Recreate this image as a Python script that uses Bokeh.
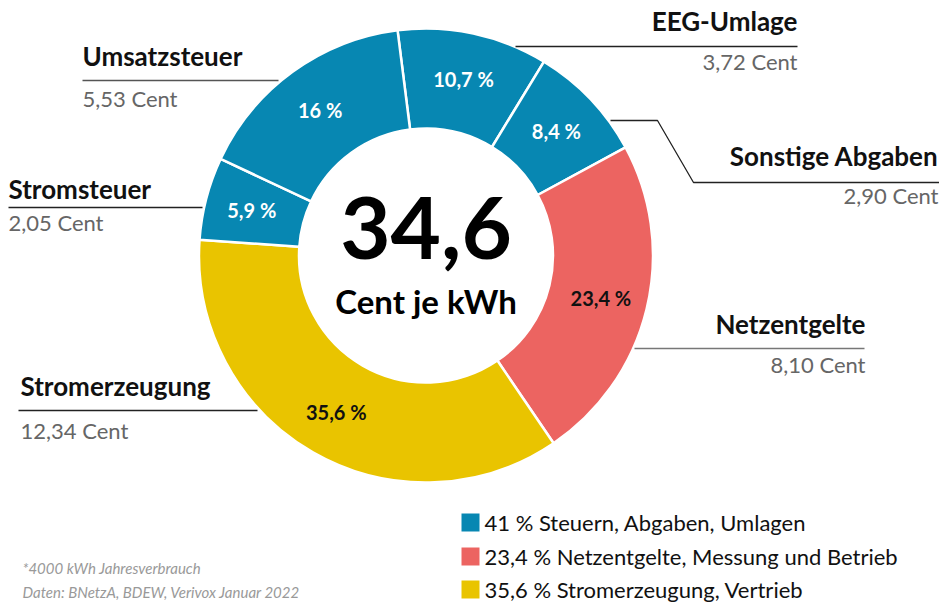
import numpy as np
from bokeh.plotting import figure
from bokeh.models import Range1d, ColumnDataSource
from bokeh.core.properties import value
from bokeh.embed import file_html
from bokeh.resources import INLINE

# ---------------- data ----------------
categories = ["EEG-Umlage", "Sonstige Abgaben", "Netzentgelte",
              "Stromerzeugung", "Stromsteuer", "Umsatzsteuer"]
shares = [10.7, 8.4, 23.4, 35.6, 5.9, 16.0]
share_labels = ["10,7 %", "8,4 %", "23,4 %", "35,6 %", "5,9 %", "16 %"]
cent_labels = ["3,72 Cent", "2,90 Cent", "8,10 Cent", "12,34 Cent", "2,05 Cent", "5,53 Cent"]
groups = ["steuern", "steuern", "netz", "erzeugung", "steuern", "steuern"]
total_label = "34,6"
unit_label = "Cent je kWh"
legend_labels = ["41 % Steuern, Abgaben, Umlagen",
                 "23,4 % Netzentgelte, Messung und Betrieb",
                 "35,6 % Stromerzeugung, Vertrieb"]
legend_groups = ["steuern", "netz", "erzeugung"]
footnotes = ["*4000 kWh Jahresverbrauch", "Daten: BNetzA, BDEW, Verivox Januar 2022"]

# ---------------- styles ----------------
colors = {"steuern": "#0787B2", "netz": "#EC6461", "erzeugung": "#E9C400"}
inner_text_color = {"steuern": "white", "netz": "#111111", "erzeugung": "#111111"}
FONT = "Lato"

W, H = 939, 602
def X(xp):  # page pixel -> data
    return xp
def Y(yp):
    return H - yp
def YC(cap_center, size):  # visual cap centre -> "middle" anchor
    return Y(cap_center - 0.1 * size)

cx, cy = X(425.5), Y(255)
R_out, R_in = 227, 127
theta0 = -7.2  # degrees clockwise from 12 o'clock

cum = np.concatenate([[0], np.cumsum(shares)])
th_s = theta0 + 3.6 * cum[:-1]
th_e = theta0 + 3.6 * cum[1:]
th_m = (th_s + th_e) / 2
lab_r = 180

src = ColumnDataSource(dict(
    cat=categories,
    start=np.radians(90 - th_s),
    end=np.radians(90 - th_e),
    color=[colors[g] for g in groups],
    lx=cx + lab_r * np.sin(np.radians(th_m)),
    ly=cy + lab_r * np.cos(np.radians(th_m)),
    lab=share_labels,
    tcol=[inner_text_color[g] for g in groups],
))

p = figure(width=W, height=H, output_backend="svg", toolbar_location=None,
           x_range=Range1d(0, W), y_range=Range1d(0, H),
           x_axis_type=None, y_axis_type=None, min_border=0,
           outline_line_color=None, background_fill_color="white")
p.grid.visible = False

p.annular_wedge(x=cx, y=cy, inner_radius=R_in, outer_radius=R_out,
                start_angle="start", end_angle="end", direction="clock",
                fill_color="color", line_color="white", line_width=2.5, source=src)

p.text(x="lx", y="ly", text="lab", text_color="tcol", source=src,
       text_font=value(FONT), text_font_style="bold", text_font_size=value("20px"),
       text_align="center", text_baseline="middle")

# center
p.text(x=[cx], y=[YC(236, 87)], text=[total_label], text_font=value(FONT), text_font_style="bold",
       text_font_size=value("87px"), text_align="center", text_baseline="middle",
       text_color="#000000")
p.text(x=[cx], y=[YC(304, 33)], text=[unit_label], text_font=value(FONT), text_font_style="bold",
       text_font_size=value("33px"), text_align="center", text_baseline="middle",
       text_color="#000000")

# outer labels layout (page coords): name x, name cap centre, value cap centre, align, leader line
layout = {
    "EEG-Umlage":       (797, 23, 63, "right", [(515, 46), (797, 46)]),
    "Sonstige Abgaben": (938, 158, 197.5, "right", [(610, 120), (657, 120), (693, 182), (939, 182)]),
    "Netzentgelte":     (865, 326, 366, "right", [(634, 348), (864, 348)]),
    "Stromerzeugung":   (20, 388.5, 432.5, "left", [(18, 410), (257, 410)]),
    "Stromsteuer":      (8, 191, 224.5, "left", [(8, 207), (202, 207)]),
    "Umsatzsteuer":     (82, 58.5, 100.5, "left", [(82, 80), (278, 80)]),
}
line_colors = {"Netzentgelte": "#777777", "Umsatzsteuer": "#555555"}
for cat, cl in zip(categories, cent_labels):
    nx, nc, vc, al, pts = layout[cat]
    p.text(x=[X(nx)], y=[YC(nc, 26)], text=[cat], text_font=value(FONT), text_font_style="bold",
           text_font_size=value("26px"), text_align=al, text_baseline="middle",
           text_color="#111111")
    p.text(x=[X(nx)], y=[YC(vc, 22)], text=[cl], text_font=value(FONT),
           text_font_size=value("22px"), text_align=al, text_baseline="middle",
           text_color="#666666")
    p.line(x=[X(a) for a, b in pts], y=[Y(b) for a, b in pts],
           line_color=line_colors.get(cat, "#222222"), line_width=1.3)

# legend
leg_y = [522, 556, 589]
for lab, g, yy in zip(legend_labels, legend_groups, leg_y):
    p.rect(x=[X(470)], y=[Y(yy)], width=18, height=18, fill_color=colors[g], line_color=None)
    p.text(x=[X(484)], y=[YC(yy + 2, 22)], text=[lab], text_font=value(FONT),
           text_font_size=value("22px"), text_align="left", text_baseline="middle",
           text_color="#111111")

# footnotes
for fn, yc in zip(footnotes, [568.5, 592.5]):
    p.text(x=[X(22)], y=[YC(yc, 15)], text=[fn], text_font=value(FONT), text_font_style="italic",
           text_font_size=value("15px"), text_align="left", text_baseline="middle",
           text_color="#999999")

open("out.html", "w").write(file_html(p, INLINE))
